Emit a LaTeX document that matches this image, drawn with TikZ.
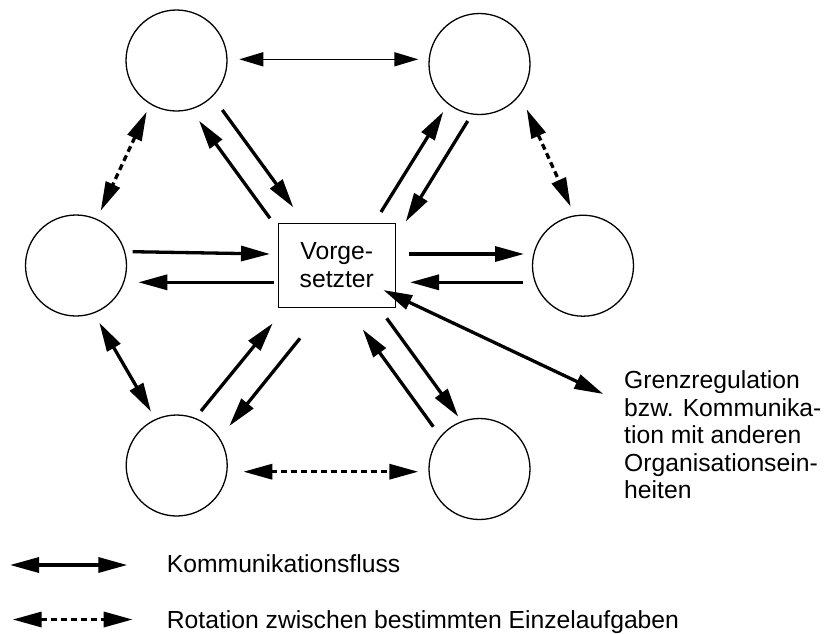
\documentclass[tikz,border=0pt]{standalone}
\usepackage{fontspec}
\setmainfont{Liberation Sans}
\usetikzlibrary{arrows.meta}
\begin{document}
\begin{tikzpicture}[x=1pt,y=-1pt,
  every node/.style={font=\fontsize{24.7}{27.5}\selectfont},
  unit/.style={circle,draw,line width=1.3pt,minimum size=101pt,inner sep=0pt},
  boss/.style={rectangle,draw,line width=1.5pt,minimum width=117pt,minimum height=84pt,inner sep=0pt,align=center},
  flow/.style={line width=3.3pt,-{Triangle[length=29pt,width=15pt]}},
  both/.style={line width=3.3pt,{Triangle[length=29pt,width=15pt]}-{Triangle[length=29pt,width=15pt]}},
  thinboth/.style={line width=1.5pt,{Triangle[length=24pt,width=14pt]}-{Triangle[length=24pt,width=14pt]}},
  rot/.style={both,dash pattern=on 6pt off 4pt},
  label/.style={inner sep=0pt,anchor=base west}]
\useasboundingbox (0,0) rectangle (824,633);

% group members and supervisor
\node[unit] (tl) at (176.5,60.5) {};
\node[unit] (tr) at (479.5,64) {};
\node[unit] (ml) at (76,265.5) {};
\node[unit] (mr) at (583,265.7) {};
\node[unit] (bl) at (176.7,465.5) {};
\node[unit] (br) at (479.5,469) {};
\node[boss] (vg) at (336.8,265.3) {Vorge-\\setzter};

% outer ring
\coordinate (tt1) at (239.3,59.3);  \coordinate (tt2) at (418.3,59.3);
\coordinate (dl1) at (146.7,111.7); \coordinate (dl2) at (100.7,210.7);
\coordinate (dr1) at (526.7,109.3); \coordinate (dr2) at (570.7,206.7);
\coordinate (lb1) at (99.3,322.7);  \coordinate (lb2) at (151,411.7);
\coordinate (bb1) at (243.3,471.7); \coordinate (bb2) at (418.3,471.7);
\draw[thinboth] (tt1) -- (tt2);
\draw[rot] (dl1) -- (dl2);
\draw[rot] (dr1) -- (dr2);
\draw[both] (lb1) -- (lb2);
\draw[rot] (bb1) -- (bb2);

% spokes to and from the supervisor
\coordinate (a1) at (222.3,110);   \coordinate (a2) at (293.3,207.3);
\coordinate (b1) at (270,218.3);   \coordinate (b2) at (199,120.7);
\coordinate (c1) at (381,212);     \coordinate (c2) at (443.3,111.7);
\coordinate (d1) at (467.7,121);   \coordinate (d2) at (405.7,221.7);
\coordinate (e1) at (132.7,251.7); \coordinate (e2) at (270,254);
\coordinate (f1) at (274,282.3);   \coordinate (f2) at (138.3,282.3);
\coordinate (g1) at (409.3,254);   \coordinate (g2) at (524,254);
\coordinate (h1) at (523.3,282.3); \coordinate (h2) at (410,282.3);
\coordinate (i1) at (201,411);     \coordinate (i2) at (272.7,323.3);
\coordinate (j1) at (300,338.3);   \coordinate (j2) at (229.3,426);
\coordinate (k1) at (433.3,426.7); \coordinate (k2) at (362.7,329.3);
\coordinate (m1) at (386.7,318.3); \coordinate (m2) at (458.3,416.7);
\foreach \s in {a,b,c,d,e,f,g,h,i,j,k,m}
  \draw[flow] (\s1) -- (\s2);

% boundary regulation
\coordinate (gr1) at (383.3,290); \coordinate (gr2) at (603.3,394);
\draw[both] (gr1) -- (gr2);
\node[inner sep=0pt,anchor=north west,align=left] (grenz) at (624,370.5)
  {Grenzregulation\\bzw. Kommunika-\\tion mit anderen\\Organisationsein-\\heiten};

% legend
\coordinate (k1l) at (10,565);   \coordinate (k2l) at (127.3,565);
\coordinate (r1l) at (12.7,619.5); \coordinate (r2l) at (132.7,619.5);
\draw[both] (k1l) -- (k2l);
\draw[rot] (r1l) -- (r2l);
\node[label] (kom) at (166.7,572.7) {Kommunikationsfluss};
\node[label] (rota) at (166.7,628.5) {Rotation zwischen bestimmten Einzelaufgaben};
\end{tikzpicture}
\end{document}
